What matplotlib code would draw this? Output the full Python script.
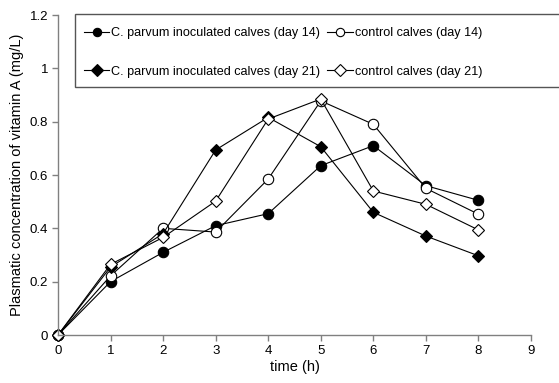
import numpy as np
import matplotlib.pyplot as plt
from matplotlib.patches import Rectangle

plt.rcParams['font.family'] = ['Liberation Sans', 'DejaVu Sans']

# Time points (h)
time_h = [0, 1, 2, 3, 4, 5, 6, 7, 8]

# Plasma vitamin A (mg/L)
inoc_day14 = [0, 0.20, 0.31, 0.41, 0.455, 0.635, 0.71, 0.56, 0.505]
ctrl_day14 = [0, 0.222, 0.40, 0.386, 0.585, 0.878, 0.79, 0.55, 0.453]
inoc_day21 = [0, 0.255, 0.38, 0.694, 0.816, 0.706, 0.46, 0.371, 0.297]
ctrl_day21 = [0, 0.265, 0.366, 0.502, 0.81, 0.885, 0.54, 0.49, 0.394]

labels = ['C. parvum inoculated calves (day 14)', 'control calves (day 14)',
          'C. parvum inoculated calves (day 21)', 'control calves (day 21)']

W, H = 559, 383
fig = plt.figure(figsize=(W / 100, H / 100), dpi=100)
ax = fig.add_axes([58 / W, 1 - 335 / H, (531 - 58) / W, (335 - 15) / H])

kw = dict(color='black', linewidth=0.8, markeredgecolor='black',
          markeredgewidth=0.8, clip_on=False)
h1, = ax.plot(time_h, inoc_day14, marker='o', markersize=7.5, markerfacecolor='black', **kw)
h2, = ax.plot(time_h, ctrl_day14, marker='o', markersize=7.5, markerfacecolor='white', **kw)
h3, = ax.plot(time_h, inoc_day21, marker='D', markersize=6, markerfacecolor='black', **kw)
h4, = ax.plot(time_h, ctrl_day21, marker='D', markersize=6, markerfacecolor='white', **kw)

ax.set_xlim(0, 9)
ax.set_ylim(0, 1.2)
ax.set_xticks(range(0, 10))
ax.set_yticks([0, 0.2, 0.4, 0.6, 0.8, 1, 1.2])
ax.set_yticklabels(['0', '0.2', '0.4', '0.6', '0.8', '1', '1.2'])

for s in ['top', 'right']:
    ax.spines[s].set_visible(False)
for s in ['left', 'bottom']:
    ax.spines[s].set_color('#808080')
    ax.spines[s].set_linewidth(1.0)
ax.tick_params(direction='out', length=4, width=1, color='#808080', labelsize=9.5, pad=3)

ax.set_xlabel('time (h)', fontsize=10.5, labelpad=2)
ax.set_ylabel('Plasmatic concentration of vitamin A (mg/L)', fontsize=10.5, labelpad=4)

# legend box (frame runs off the right edge in the original)
fig.patches.append(Rectangle((75 / W, 1 - 87 / H), (600 - 75) / W, (87 - 14) / H,
                             transform=fig.transFigure, facecolor='white',
                             edgecolor='#555555', linewidth=1.0, zorder=5))
leg = fig.legend([h1, h3, h2, h4], [labels[0], labels[2], labels[1], labels[3]],
                 ncol=2, loc='upper left', bbox_to_anchor=(74 / W, 1 - 17 / H),
                 frameon=False, fontsize=9.1, handlelength=2.0, handletextpad=0.15,
                 columnspacing=0.55, labelspacing=2.1, borderpad=0.3)
leg.set_zorder(6)
for lh in leg.legend_handles:
    lh.set_markersize(6)
    lh.set_clip_on(True)

fig.savefig('out.png', dpi=100)
